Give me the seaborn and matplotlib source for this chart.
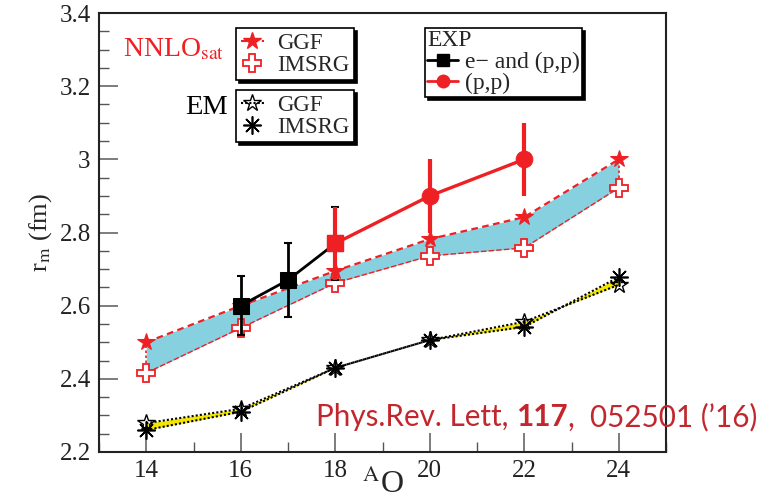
import matplotlib
matplotlib.use("Agg")
import matplotlib.pyplot as plt
import seaborn as sns
import numpy as np
from matplotlib.lines import Line2D
from matplotlib.ticker import MultipleLocator

# ---------------- data ----------------
A = [14, 16, 18, 20, 22, 24]
nnlo_ggf = [2.50, 2.60, 2.695, 2.782, 2.842, 3.00]
nnlo_imsrg = [2.416, 2.539, 2.662, 2.736, 2.758, 2.922]
em_ggf = [2.279, 2.318, 2.43, 2.506, 2.556, 2.657]
em_imsrg = [2.260, 2.310, 2.43, 2.506, 2.542, 2.678]

exp_e_A = [16, 17, 18]
exp_e_r = [2.60, 2.67, 2.77]
exp_e_err = [0.08, 0.10, 0.10]

exp_pp_A = [18, 20, 22]
exp_pp_r = [2.77, 2.90, 3.00]
exp_pp_err = [0.10, 0.10, 0.10]

x_ticks = [14, 16, 18, 20, 22, 24]
y_ticks = [2.2, 2.4, 2.6, 2.8, 3.0, 3.2, 3.4]
y_ticklabels = ["2.2", "2.4", "2.6", "2.8", "3", "3.2", "3.4"]

RED = "#ee2024"
BAND = "#86d0e0"
YEL = "#f2e600"

sns.set_theme(style="ticks")
plt.rcParams["font.family"] = ["Liberation Serif", "DejaVu Serif"]
plt.rcParams["mathtext.fontset"] = "stix"

fig = plt.figure(figsize=(7.75, 5.01), dpi=100)
ax = fig.add_axes([99 / 775, 1 - 452 / 501, (666 - 99) / 775, (452 - 13) / 501])

# bands
ax.fill_between(A, nnlo_imsrg, nnlo_ggf, color=BAND, lw=0, zorder=1)
ax.fill_between(A, em_imsrg, em_ggf, color=YEL, lw=0, zorder=1)
ax.plot([A[0], A[0]], [nnlo_imsrg[0], nnlo_ggf[0]], color=RED, ls=(0, (1.5, 1.5)), lw=1.2, zorder=2)
ax.plot([A[-1], A[-1]], [nnlo_imsrg[-1], nnlo_ggf[-1]], color=RED, ls=(0, (1.5, 1.5)), lw=1.2, zorder=2)

# NNLOsat lines
sns.lineplot(x=A, y=nnlo_ggf, ax=ax, color=RED, lw=1.6, ls=(0, (3, 2)),
             marker="*", markersize=13, markeredgecolor=RED, markerfacecolor=RED, zorder=3)
sns.lineplot(x=A, y=nnlo_imsrg, ax=ax, color=RED, lw=1.0, ls=(0, (4, 1.5)),
             marker="P", markersize=13, markerfacecolor="white", markeredgecolor=RED,
             markeredgewidth=1.3, zorder=3)

# EM lines
sns.lineplot(x=A, y=em_ggf, ax=ax, color="black", lw=1.5, ls=(0, (1, 1)),
             marker="*", markersize=13, markerfacecolor="none", markeredgecolor="black",
             markeredgewidth=1.0, zorder=3)
sns.lineplot(x=A, y=em_imsrg, ax=ax, color="black", lw=1.5, ls=(0, (1, 1)),
             marker=(8, 2, 0), markersize=13, markeredgecolor="black",
             markeredgewidth=1.2, zorder=3)

# EXP
ax.errorbar(exp_e_A, exp_e_r, yerr=exp_e_err, fmt="none", ecolor="black",
            elinewidth=2.0, capsize=3, capthick=1.5, zorder=4)
sns.lineplot(x=exp_e_A, y=exp_e_r, ax=ax, color="black", lw=2.0,
             marker="s", markersize=11, markeredgecolor="black", zorder=5)
ax.errorbar(exp_pp_A, exp_pp_r, yerr=exp_pp_err, fmt="none", ecolor=RED,
            elinewidth=3.0, capsize=0, zorder=4)
sns.lineplot(x=exp_pp_A[1:], y=exp_pp_r[1:], ax=ax, color=RED, lw=2.4,
             marker="o", markersize=12, markeredgecolor=RED, zorder=5)
ax.plot(exp_pp_A[:2], exp_pp_r[:2], color=RED, lw=2.4, zorder=5)
ax.plot([exp_pp_A[0]], [exp_pp_r[0]], marker="s", markersize=11, color=RED,
        markeredgecolor=RED, zorder=6)

# axes styling
ax.set_xlim(13, 25)
ax.set_ylim(2.2, 3.4)
ax.set_xticks(x_ticks)
ax.set_yticks(y_ticks)
ax.set_yticklabels(y_ticklabels)
ax.xaxis.set_minor_locator(MultipleLocator(1))
ax.yaxis.set_minor_locator(MultipleLocator(0.05))
ax.tick_params(which="major", direction="in", length=14, width=1.2, color="#666666",
               labelsize=18, labelcolor="#222222", pad=6, top=False, right=False)
ax.tick_params(which="minor", direction="in", length=7, width=1.0, color="#555555",
               top=False, right=False)
for s in ax.spines.values():
    s.set_linewidth(1.5)
    s.set_color("#222222")
    s.set_visible(True)
ax.set_xlabel(r"$^{\mathrm{A}}$O", fontsize=23, labelpad=-9)
ax.set_ylabel(r"r$_{\mathrm{m}}$ (fm)", fontsize=19, labelpad=4)
ax.grid(False)

# legends
shadow = {"color": "black", "alpha": 1.0}
h1 = [Line2D([], [], color=RED, ls=(0, (3, 2)), marker="*", markersize=13, mfc=RED, mec=RED),
      Line2D([], [], color="none", marker="P", markersize=13, mfc="white", mec=RED, mew=1.3)]
leg1 = ax.legend(h1, ["GGF", "IMSRG"], loc="upper left",
                 bbox_to_anchor=(236 / 775, 1 - 28 / 501), bbox_transform=fig.transFigure,
                 frameon=True, fancybox=False, shadow=shadow, fontsize=16.5,
                 handlelength=1.0, handletextpad=0.6, borderpad=0.2, labelspacing=0.05,
                 borderaxespad=0)
leg1.get_frame().set_edgecolor("black")
leg1.get_frame().set_linewidth(1.2)
ax.add_artist(leg1)

h2 = [Line2D([], [], color="black", ls=(0, (1, 1)), marker="*", markersize=13, mfc="none", mec="black"),
      Line2D([], [], color="none", marker=(8, 2, 0), markersize=13, mec="black", mew=1.2)]
leg2 = ax.legend(h2, ["GGF", "IMSRG"], loc="upper left",
                 bbox_to_anchor=(236 / 775, 1 - 90 / 501), bbox_transform=fig.transFigure,
                 frameon=True, fancybox=False, shadow=shadow, fontsize=16.5,
                 handlelength=1.0, handletextpad=0.6, borderpad=0.2, labelspacing=0.05,
                 borderaxespad=0)
leg2.get_frame().set_edgecolor("black")
leg2.get_frame().set_linewidth(1.2)
ax.add_artist(leg2)

h3 = [Line2D([], [], color="black", lw=2, marker="s", markersize=8),
      Line2D([], [], color=RED, lw=2, marker="o", markersize=9)]
leg3 = ax.legend(h3, ["e\u2212 and (p,p)", "(p,p)"], loc="upper left", title="EXP",
                 bbox_to_anchor=(425 / 775, 1 - 28 / 501), bbox_transform=fig.transFigure,
                 frameon=True, fancybox=False, shadow=shadow, fontsize=17,
                 title_fontsize=17, alignment="left",
                 handlelength=1.3, handletextpad=0.3, borderpad=0.1, labelspacing=0.0,
                 borderaxespad=0)
leg3.get_frame().set_edgecolor("black")
leg3.get_frame().set_linewidth(1.2)

fig.text(123 / 775, 1 - 50 / 501, r"NNLO$_{\mathrm{sat}}$", color=RED, fontsize=20,
         ha="left", va="center")
fig.text(228 / 775, 1 - 107 / 501, "EM", color="black", fontsize=20.5,
         ha="right", va="center")

# citation
CIT = "#c1272d"
CY = 1 - 417 / 501
FS = 21.3
t0 = fig.text(316 / 775, CY, "Phys.Rev. Lett, ", color=CIT, fontsize=FS,
              family="Lato", ha="left", va="center")
fig.canvas.draw()
r = t0.get_window_extent()
t1 = fig.text(r.x1 / 775, CY, "117", color=CIT, fontsize=FS, family="Lato",
              weight="bold", ha="left", va="center")
fig.canvas.draw()
r2 = t1.get_window_extent()
fig.text(r2.x1 / 775, CY, ",  052501 (\u201916)", color=CIT, fontsize=FS,
         family="Lato", ha="left", va="center")

fig.savefig("out.png", dpi=100)
